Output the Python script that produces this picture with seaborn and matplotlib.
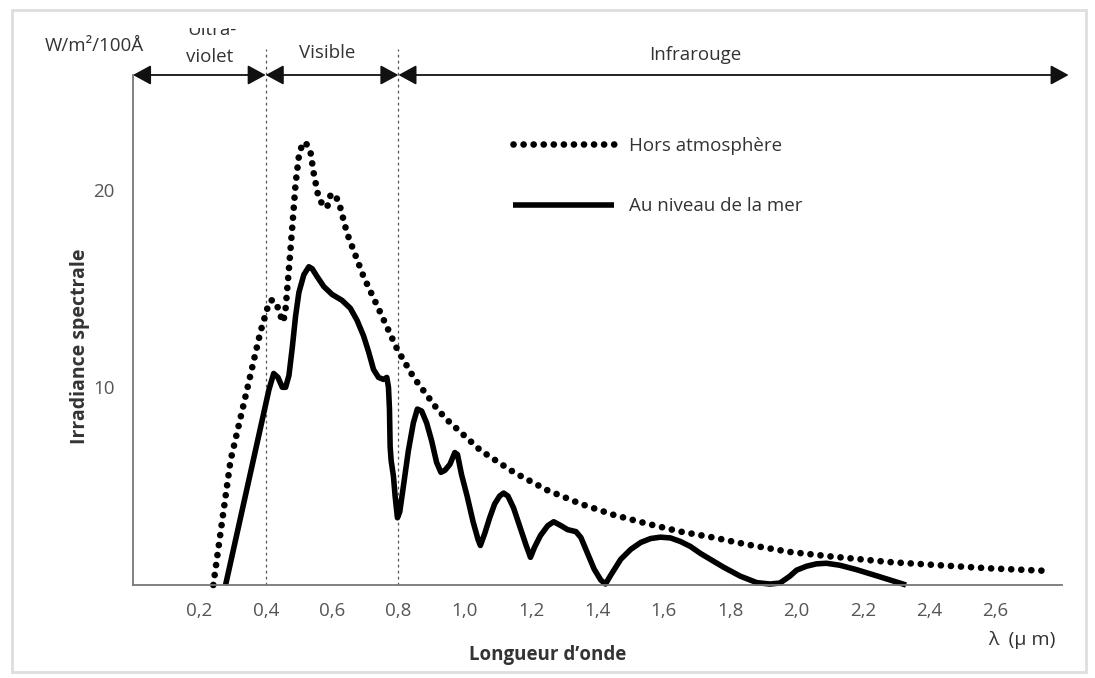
import numpy as np
import pandas as pd
import matplotlib
matplotlib.use("Agg")
import matplotlib.pyplot as plt
import seaborn as sns
from matplotlib.patches import Rectangle

# ---------------- data ----------------
hors_x = [0.242, 0.294, 0.344, 0.384, 0.405, 0.415, 0.425, 0.435, 0.445, 0.453,
          0.46, 0.47, 0.48, 0.49, 0.50, 0.51, 0.52, 0.535, 0.545, 0.558,
          0.572, 0.585, 0.595, 0.605, 0.62, 0.645, 0.695, 0.745, 0.797, 0.846,
          0.917, 0.947, 1.048, 1.148, 1.248, 1.35, 1.45, 1.55, 1.65, 1.75,
          1.85, 1.98, 2.10, 2.28, 2.43, 2.585, 2.76]
hors_y = [0.0, 6.3, 9.9, 12.8, 14.0, 14.4, 14.4, 14.1, 13.6, 13.3,
          14.0, 16.0, 18.1, 20.3, 21.7, 22.3, 22.4, 21.9, 20.8, 19.7,
          19.2, 19.1, 19.7, 19.8, 19.4, 17.8, 15.6, 13.8, 11.9, 10.5,
          8.9, 8.35, 6.8, 5.7, 4.8, 4.1, 3.54, 3.1, 2.7, 2.4,
          2.05, 1.67, 1.45, 1.16, 1.0, 0.84, 0.71]

mer_x = [0.279, 0.41, 0.424, 0.437, 0.45, 0.46, 0.47, 0.48, 0.49, 0.50,
         0.515, 0.53, 0.54, 0.555, 0.575, 0.60, 0.63, 0.655, 0.675, 0.695,
         0.71, 0.725, 0.74, 0.755, 0.765, 0.770, 0.773, 0.775, 0.778, 0.785,
         0.79, 0.797, 0.804, 0.815, 0.83, 0.845, 0.857, 0.87, 0.885, 0.90,
         0.915, 0.928, 0.94, 0.955, 0.97, 0.978, 0.99, 1.007, 1.025, 1.04,
         1.047, 1.06, 1.075, 1.09, 1.105, 1.117, 1.13, 1.147, 1.165, 1.185,
         1.198, 1.21, 1.228, 1.25, 1.268, 1.29, 1.31, 1.335, 1.35, 1.37,
         1.39, 1.41, 1.424, 1.44, 1.47, 1.50, 1.53, 1.56, 1.59, 1.62,
         1.65, 1.68, 1.71, 1.745, 1.78, 1.83, 1.88, 1.92, 1.95, 1.98,
         2.00, 2.03, 2.06, 2.09, 2.13, 2.18, 2.25, 2.33]
mer_y = [0.0, 9.9, 10.7, 10.5, 10.0, 10.0, 10.6, 12.0, 13.6, 14.8,
         15.7, 16.1, 16.0, 15.6, 15.1, 14.7, 14.4, 14.0, 13.4, 12.6,
         11.8, 10.9, 10.5, 10.4, 10.5, 10.0, 8.9, 7.0, 6.3, 5.5,
         4.5, 3.4, 3.7, 5.0, 6.8, 8.2, 8.9, 8.8, 8.2, 7.3,
         6.2, 5.7, 5.8, 6.1, 6.7, 6.6, 5.6, 4.5, 3.2, 2.3,
         2.0, 2.6, 3.4, 4.1, 4.5, 4.65, 4.5, 3.9, 3.0, 2.0,
         1.4, 1.9, 2.5, 3.0, 3.2, 3.0, 2.8, 2.7, 2.4, 1.6,
         0.8, 0.25, 0.05, 0.5, 1.3, 1.8, 2.15, 2.35, 2.42, 2.38,
         2.2, 1.95, 1.6, 1.25, 0.9, 0.45, 0.12, 0.05, 0.1, 0.45,
         0.75, 0.95, 1.07, 1.1, 1.0, 0.78, 0.42, 0.0]

series_labels = ["Hors atmosphère", "Au niveau de la mer"]
x_ticks = [0.2, 0.4, 0.6, 0.8, 1.0, 1.2, 1.4, 1.6, 1.8, 2.0, 2.2, 2.4, 2.6, 2.8]
x_tick_labels = ["0,2", "0,4", "0,6", "0,8", "1,0", "1,2", "1,4", "1,6", "1,8",
                 "2,0", "2,2", "2,4", "2,6", ""]
y_ticks = [2, 4, 6, 8, 10, 12, 14, 16, 18, 20, 22, 24]
y_tick_labels = ["", "", "", "", "10", "", "", "", "", "20", "", ""]
band_edges = [0.0, 0.4, 0.8, 2.82]
band_names = ["Ultra-", "violet", "Visible", "Infrarouge"]

# ---------------- style ----------------
sns.set_style("white")
plt.rcParams['font.family'] = ['Open Sans', 'DejaVu Sans']

W, H = 1095, 678
fig = plt.figure(figsize=(W / 100, H / 100), dpi=100)
ax = fig.add_axes([133 / W, 1 - 585 / H, (1062 - 133) / W, (585 - 75) / H])

YTOP = 25.8
ax.set_xlim(0, 2.8)
ax.set_ylim(0, YTOP)

df_hors = pd.DataFrame({"x": hors_x, "y": hors_y})
df_mer = pd.DataFrame({"x": mer_x, "y": mer_y})

sns.lineplot(data=df_hors, x="x", y="y", ax=ax, sort=False, estimator=None,
             color="black", lw=4.8, linestyle=(0, (0.01, 1.5)),
             dash_capstyle="round", label=series_labels[0], clip_on=False)
sns.lineplot(data=df_mer, x="x", y="y", ax=ax, sort=False, estimator=None,
             color="black", lw=4.0, solid_capstyle="butt",
             solid_joinstyle="round", label=series_labels[1], clip_on=False)

# boundaries between bands
for xv in band_edges[1:3]:
    ax.plot([xv, xv], [0, 27.1], ls=(0, (2.2, 2.6)), lw=0.9, color="#555555",
            clip_on=False, zorder=1)

# band arrows
for a, b in zip(band_edges[:-1], band_edges[1:]):
    ax.annotate('', xy=(b, YTOP), xytext=(a, YTOP),
                arrowprops=dict(arrowstyle='<|-|>,head_length=0.55,head_width=0.3',
                                color="#111111", lw=1.3, mutation_scale=20,
                                shrinkA=0, shrinkB=0),
                annotation_clip=False)

txt_col = "#333333"
ax.text(0.585, 26.9, band_names[2], ha="center", va="center", fontsize=13.5,
        color=txt_col, clip_on=False)
ax.text(1.695, 26.8, band_names[3], ha="center", va="center", fontsize=13.5,
        color=txt_col, clip_on=False)
fig.text(212 / W, 1 - 35 / H, band_names[0], ha="center", va="baseline",
         fontsize=13.5, color=txt_col)
fig.text(210 / W, 1 - 57 / H, band_names[1], ha="center", va="center",
         fontsize=13.5, color=txt_col)
# the top of the picture is cut just above "Ultra-"
fig.patches.append(Rectangle((170 / W, 1 - 28 / H), 90 / W, 16 / H,
                             transform=fig.transFigure, facecolor="white",
                             edgecolor="none", zorder=5))

fig.text(94 / W, 1 - 46 / H, "W/m²/100Å", ha="center", va="center",
         fontsize=13.5, color=txt_col)

# axes styling
for s in ["top", "right"]:
    ax.spines[s].set_visible(False)
for s in ["left", "bottom"]:
    ax.spines[s].set_color("#777777")
    ax.spines[s].set_linewidth(1.3)

ax.set_xticks(x_ticks)
ax.set_xticklabels(x_tick_labels)
ax.set_yticks(y_ticks)
ax.set_yticklabels(y_tick_labels)
ax.tick_params(axis="x", direction="in", length=7, width=1.1, color="#777777",
               pad=12, labelsize=13.5, labelcolor="#555555")
ax.tick_params(axis="y", direction="in", length=5, width=1.1, color="#777777",
               pad=13, labelsize=13.5, labelcolor="#555555")
ax.set_xlabel("")
ax.set_ylabel("")

fig.text(80 / W, 1 - 346 / H, "Irradiance spectrale", rotation=90, ha="center",
         va="center", fontsize=14, fontweight="bold", color=txt_col)
fig.text(548 / W, 1 - 655 / H, "Longueur d’onde", ha="center", va="center",
         fontsize=13.5, fontweight="bold", color=txt_col)
fig.text(1022 / W, 1 - 640 / H, "λ  (μ m)", ha="center", va="center",
         fontsize=14, color=txt_col)

leg = ax.legend(loc="upper left", bbox_to_anchor=(513 / W, 1 - 137 / H),
                bbox_transform=fig.transFigure, frameon=False, fontsize=13.5,
                handlelength=5.4, handletextpad=0.8, labelspacing=2.25,
                borderpad=0, borderaxespad=0)
for t in leg.get_texts():
    t.set_color(txt_col)

# light frame of the picture
fig.patches.append(Rectangle((12 / W, 6 / H), (1086 - 12) / W, (668 - 6) / H,
                             transform=fig.transFigure, fill=False,
                             edgecolor="#dedede", lw=2.0, zorder=6))

fig.savefig("out.png", dpi=100)
